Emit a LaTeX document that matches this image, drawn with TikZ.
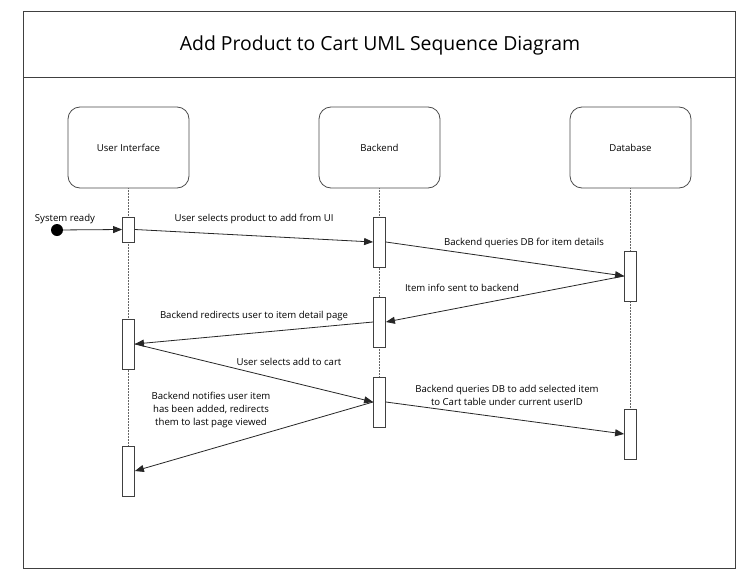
\documentclass[tikz,border=0pt]{standalone}
\usepackage{fontspec}
\setmainfont{Open Sans}
\usetikzlibrary{arrows.meta}
\begin{document}
\begin{tikzpicture}[x=1pt,y=-1pt,
  frame/.style={draw=black!75,line width=0.9pt},
  lifebox/.style={draw=black!70,line width=0.8pt,rounded corners=12pt,minimum width=121pt,minimum height=81pt,font=\fontsize{9.6}{11}\selectfont,inner sep=0pt},
  act/.style={draw=black!75,line width=0.8pt,fill=white,minimum width=12pt,inner sep=0pt},
  lifeline/.style={draw=black!60,densely dotted,line width=0.5pt},
  msg/.style={draw=black!85,line width=0.8pt,-{Triangle[length=9pt,width=7pt]}},
  lbl/.style={font=\fontsize{9.6}{13}\selectfont,inner sep=0pt,align=center}
]
\useasboundingbox (0,0) rectangle (749,578);
\fill[white] (0,0) rectangle (749,578);
% frame
\draw[frame] (23,11) rectangle (735,568);
\draw[frame] (23,77) -- (735,77);
\node[font=\fontsize{19.4}{23}\selectfont] (title) at (380,45) {Add Product to Cart UML Sequence Diagram};
% lifeline heads
\node[lifebox] (ui) at (128.5,147.5) {User Interface};
\node[lifebox] (be) at (379.5,147.5) {Backend};
\node[lifebox] (db) at (630.5,147.5) {Database};
% lifelines
\coordinate (uiend) at (128.5,446);
\coordinate (beend) at (379.5,377);
\coordinate (dbend) at (630.5,409);
\draw[lifeline] (ui.south) -- (uiend);
\draw[lifeline] (be.south) -- (beend);
\draw[lifeline] (db.south) -- (dbend);
% activations
\node[act,minimum height=25pt] (uia1) at (128.5,229.5) {};
\node[act,minimum height=50pt] (uia2) at (128.5,344) {};
\node[act,minimum height=50pt] (uia3) at (128.5,471) {};
\node[act,minimum height=50pt] (bea1) at (379.5,242) {};
\node[act,minimum height=50pt] (bea2) at (379.5,322) {};
\node[act,minimum height=50pt] (bea3) at (379.5,402) {};
\node[act,minimum height=50pt] (dba1) at (630.5,276) {};
\node[act,minimum height=50pt] (dba2) at (630.5,434) {};
% start
\node[circle,fill=black,minimum size=12pt,inner sep=0pt] (start) at (57,230) {};
\draw[msg] (start) -- (uia1.west);
\node[lbl] (l0) at (65,219) {System ready};
% messages
\draw[msg] (uia1.east) -- (bea1.west);
\node[lbl] (l1) at (254,219) {User selects product to add from UI};
\draw[msg] (bea1.east) -- (dba1.west);
\node[lbl] (l2) at (524,243) {Backend queries DB for item details};
\draw[msg] (dba1.west) -- (bea2.east);
\node[lbl] (l3) at (462,288) {Item info sent to backend};
\draw[msg] (bea2.west) -- (uia2.east);
\node[lbl] (l4) at (254,316) {Backend redirects user to item detail page};
\draw[msg] (uia2.east) -- (bea3.west);
\node[lbl] (l5) at (289,362) {User selects add to cart};
\draw[msg] (bea3.east) -- (dba2.west);
\node[lbl] (l6) at (507,395) {Backend queries DB to add selected item\\to Cart table under current userID};
\draw[msg] (bea3.west) -- (uia3.east);
\node[lbl] (l7) at (211,410) {Backend notifies user item\\has been added, redirects\\them to last page viewed};
\end{tikzpicture}
\end{document}
